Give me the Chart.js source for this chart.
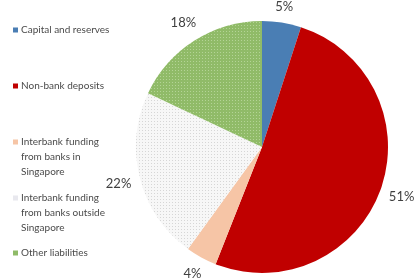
<!DOCTYPE html>
<html>
<head>
<meta charset="utf-8">
<script src="https://cdn.jsdelivr.net/npm/chart.js@4"></script>
<style>
  html, body { margin: 0; padding: 0; background: #fff; }
  #wrap { position: relative; width: 417px; height: 278px; }
</style>
</head>
<body>
<div id="wrap"><canvas id="fundingChart" width="417" height="278"></canvas></div>
<script>
// Data
const categories = [
    'Capital and reserves',
    'Non-bank deposits',
    'Interbank funding from banks in Singapore',
    'Interbank funding from banks outside Singapore',
    'Other liabilities'
];
const shares = [5, 51, 4, 22, 18];
const legendLines = [
    ['Capital and reserves'],
    ['Non-bank deposits'],
    ['Interbank funding', 'from banks in', 'Singapore'],
    ['Interbank funding', 'from banks outside', 'Singapore'],
    ['Other liabilities']
];

// dotted fills
function dotPattern(bg, dot) {
    const c = document.createElement('canvas');
    c.width = 3; c.height = 3;
    const g = c.getContext('2d');
    g.fillStyle = bg; g.fillRect(0, 0, 3, 3);
    g.fillStyle = dot; g.fillRect(1, 1, 1, 1);
    return g.createPattern(c, 'repeat');
}

const ctx = document.getElementById('fundingChart').getContext('2d');
const sliceColors = [
    '#4a7eb4',
    '#c00000',
    '#f6c5a6',
    dotPattern('#f7f7f7', '#d6d6d6'),
    dotPattern('#90bb68', '#b4d496')
];
const legendColors = ['#4a7eb4', '#c00000', '#f6c5a6', '#e8e8ee', '#8fbb68'];

// Percent labels outside each slice
const outsideLabels = {
    id: 'outsideLabels',
    afterDatasetsDraw(chart) {
        const c = chart.ctx;
        const meta = chart.getDatasetMeta(0);
        c.save();
        c.font = '13px Lato, "Open Sans", sans-serif';
        c.fillStyle = '#404040';
        c.textAlign = 'center';
        c.textBaseline = 'middle';
        meta.data.forEach((arc, i) => {
            const mid = (arc.startAngle + arc.endAngle) / 2;
            const dx = Math.cos(mid), dy = Math.sin(mid);
            const txt = shares[i] + '%';
            const half = Math.abs(dx) * c.measureText(txt).width / 2 + Math.abs(dy) * 7;
            const r = arc.outerRadius + 8 + half;
            c.fillText(txt, arc.x + dx * r, arc.y + dy * r);
        });
        c.restore();
    }
};

// Legend on the left
const sideLegend = {
    id: 'sideLegend',
    afterDraw(chart) {
        const c = chart.ctx;
        const tops = [30, 86, 142, 198, 253];
        c.save();
        c.font = '10px Lato, "Open Sans", sans-serif';
        c.textBaseline = 'middle';
        legendLines.forEach((lines, i) => {
            c.fillStyle = legendColors[i];
            c.fillRect(13, tops[i] - 2.5, 5, 5);
            c.fillStyle = '#4a4a4a';
            lines.forEach((t, j) => c.fillText(t, 21, tops[i] + j * 15));
        });
        c.restore();
    }
};

new Chart(ctx, {
    type: 'pie',
    data: {
        labels: categories,
        datasets: [{
            data: shares,
            backgroundColor: sliceColors,
            borderWidth: 0
        }]
    },
    options: {
        responsive: false,
        animation: false,
        layout: { padding: { left: 136, right: 29, top: 21, bottom: 5 } },
        plugins: {
            legend: { display: false },
            tooltip: { enabled: false }
        }
    },
    plugins: [outsideLabels, sideLegend]
});
</script>
</body>
</html>
